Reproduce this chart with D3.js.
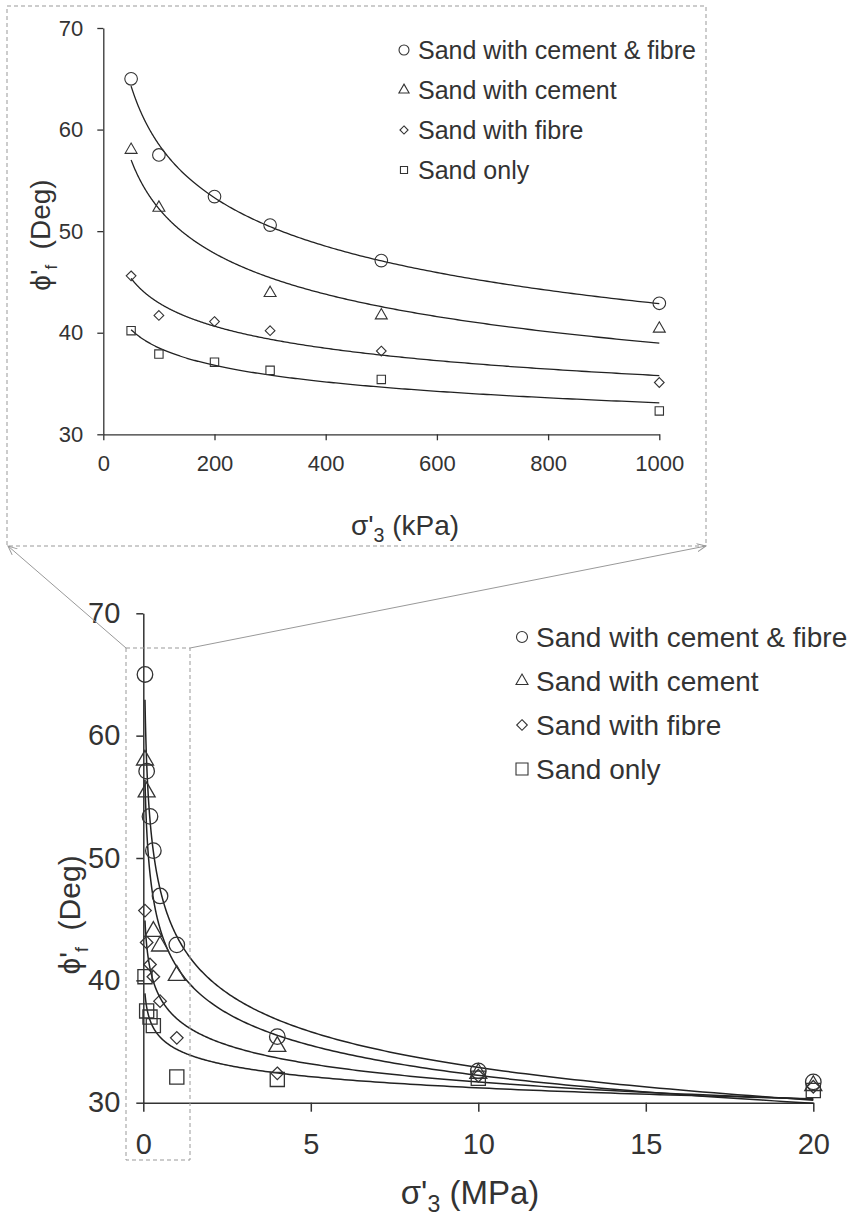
<!DOCTYPE html>
<html>
<head>
<meta charset="utf-8">
<script src="https://cdn.jsdelivr.net/npm/d3@7"></script>
<style>
  body { margin: 0; background: #fff; }
  svg { display: block; }
  text { font-family: "Liberation Sans", Arial, sans-serif; fill: #333; }
</style>
</head>
<body>
<svg id="chart" width="851" height="1220"></svg>
<script>
// ---- Series names (legend order) ----
const seriesNames = ["Sand with cement & fibre", "Sand with cement", "Sand with fibre", "Sand only"];

// ---- Tick values ----
const degTicks = [30, 40, 50, 60, 70];
const kpaTicks = [0, 200, 400, 600, 800, 1000];
const mpaTicks = [0, 5, 10, 15, 20];

// ---- Inset: low confining pressure, σ'3 in kPa ----
const kpaCementFibreX = [50, 100, 200, 300, 500, 1000];
const kpaCementFibre  = [65.0, 57.5, 53.4, 50.6, 47.1, 42.9];
const kpaCementX      = [50, 100, 300, 500, 1000];
const kpaCement       = [58.0, 52.3, 43.9, 41.7, 40.4];
const kpaFibreX       = [50, 100, 200, 300, 500, 1000];
const kpaFibre        = [45.6, 41.7, 41.1, 40.2, 38.2, 35.1];
const kpaSandX        = [50, 100, 200, 300, 500, 1000];
const kpaSand         = [40.2, 37.9, 37.1, 36.3, 35.4, 32.3];

// ---- Main: full pressure range, σ'3 in MPa ----
const mpaCementFibreX = [0.05, 0.1, 0.2, 0.3, 0.5, 1, 4, 10, 20];
const mpaCementFibre  = [65.0, 57.1, 53.4, 50.6, 46.9, 42.9, 35.4, 32.6, 31.7];
const mpaCementX      = [0.05, 0.1, 0.3, 0.5, 1, 4, 10, 20];
const mpaCement       = [58.0, 55.4, 44.0, 42.8, 40.4, 34.6, 32.4, 31.4];
const mpaFibreX       = [0.05, 0.1, 0.2, 0.3, 0.5, 1, 4, 10, 20];
const mpaFibre        = [45.7, 43.1, 41.3, 40.3, 38.3, 35.3, 32.4, 32.2, 31.3];
const mpaSandX        = [0.05, 0.1, 0.2, 0.3, 1, 4, 10, 20];
const mpaSand         = [40.3, 37.5, 37.0, 36.3, 32.1, 31.9, 32.0, 31.0];

const symbolTypes = [d3.symbolCircle, d3.symbolTriangle, d3.symbolDiamond2, d3.symbolSquare];

const svg = d3.select("#chart");
const INK = "#333";

// Power-law trendline y = a·x^b, least squares on ln–ln values
function powerFit(xs, ys) {
  const lx = xs.map(Math.log), ly = ys.map(Math.log);
  const mx = d3.mean(lx), my = d3.mean(ly);
  let sxy = 0, sxx = 0;
  lx.forEach((v, i) => { sxy += (v - mx) * (ly[i] - my); sxx += (v - mx) * (v - mx); });
  const b = sxy / sxx, a = Math.exp(my - b * mx);
  return x => a * Math.pow(x, b);
}

function drawPanel(cfg) {
  const g = svg.append("g");
  const x = d3.scaleLinear().domain(cfg.xDomain).range(cfg.xRange);
  const y = d3.scaleLinear().domain([30, 70]).range(cfg.yRange);

  // Axes
  const ax = g.append("g").attr("transform", `translate(0,${cfg.yRange[0]})`)
    .call(d3.axisBottom(x).tickValues(cfg.xTicks).tickFormat(d3.format("d"))
      .tickSize(cfg.tickDown).tickSizeOuter(0).tickPadding(cfg.xPad));
  const ay = g.append("g").attr("transform", `translate(${cfg.xRange[0]},0)`)
    .call(d3.axisLeft(y).tickValues(degTicks).tickSize(cfg.tickLeft).tickSizeOuter(0).tickPadding(cfg.yPad));
  [ax, ay].forEach(a => {
    a.select(".domain").attr("stroke", INK).attr("stroke-width", cfg.axisW);
    a.selectAll(".tick line").attr("stroke", INK).attr("stroke-width", cfg.axisW);
    a.selectAll(".tick text").attr("fill", INK).style("font-size", cfg.tickFont + "px")
      .style("font-family", '"Liberation Sans", Arial, sans-serif');
  });

  // Trendlines
  const line = d3.line().x(d => x(d[0])).y(d => y(d[1]));
  cfg.series.forEach(s => {
    const f = powerFit(s.x, s.y);
    const x0 = d3.min(s.x), x1 = d3.max(s.x), n = 300;
    const pts = d3.range(n).map(i => { const xv = x0 * Math.pow(x1 / x0, i / (n - 1)); return [xv, f(xv)]; });
    g.append("path").attr("d", line(pts)).attr("fill", "none")
      .attr("stroke", "#222").attr("stroke-width", cfg.curveW);
  });

  // Markers
  cfg.series.forEach((s, si) => {
    const sym = d3.symbol().type(symbolTypes[si]).size(cfg.markerSizes[si]);
    g.selectAll(null).data(s.x.map((v, i) => [v, s.y[i]])).join("path")
      .attr("d", sym)
      .attr("transform", d => `translate(${x(d[0])},${y(d[1])})`)
      .attr("fill", "none").attr("stroke", INK).attr("stroke-width", cfg.markerW);
  });

  // Legend
  const lg = g.append("g");
  seriesNames.forEach((name, i) => {
    const cy = cfg.legend.y0 + i * cfg.legend.dy;
    lg.append("path")
      .attr("d", d3.symbol().type(symbolTypes[i]).size(cfg.legend.sizes[i]))
      .attr("transform", `translate(${cfg.legend.mx},${cy})`)
      .attr("fill", "none").attr("stroke", INK).attr("stroke-width", 1.1);
    lg.append("text").attr("x", cfg.legend.tx).attr("y", cy).attr("dy", "0.36em")
      .style("font-size", cfg.legend.font + "px").text(name);
  });

  // Axis titles
  const xt = g.append("text").attr("x", cfg.xTitle.x).attr("y", cfg.xTitle.y)
    .attr("text-anchor", "middle").style("font-size", cfg.xTitle.font + "px");
  xt.append("tspan").text("σ'");
  xt.append("tspan").attr("dy", cfg.xTitle.font * 0.25).style("font-size", (cfg.xTitle.font * 0.7) + "px").text("3");
  xt.append("tspan").attr("dy", -cfg.xTitle.font * 0.25).text(" (" + cfg.unit + ")");

  const yt = g.append("text")
    .attr("transform", `translate(${cfg.yTitle.x},${cfg.yTitle.y}) rotate(-90)`)
    .attr("text-anchor", "middle").style("font-size", cfg.yTitle.font + "px");
  yt.append("tspan").text("ϕ'");
  yt.append("tspan").attr("dy", cfg.yTitle.font * 0.25).style("font-size", (cfg.yTitle.font * 0.6) + "px").text("f");
  yt.append("tspan").attr("dy", -cfg.yTitle.font * 0.25).text("\u00a0 (Deg)");
}

// Inset panel (kPa)
drawPanel({
  xDomain: [0, 1000], xRange: [103.3, 659.3], yRange: [434.3, 28],
  xTicks: kpaTicks, tickDown: 6, tickLeft: 6, xPad: 15, yPad: 14,
  axisW: 1.3, tickFont: 22, curveW: 1.3, markerW: 1.1,
  markerSizes: [125, 62, 60, 70],
  unit: "kPa",
  series: [
    { x: kpaCementFibreX, y: kpaCementFibre },
    { x: kpaCementX, y: kpaCement },
    { x: kpaFibreX, y: kpaFibre },
    { x: kpaSandX, y: kpaSand }
  ],
  legend: { mx: 404, tx: 418, y0: 50, dy: 40, font: 25, sizes: [78, 45, 42, 50] },
  xTitle: { x: 405, y: 535, font: 28 },
  yTitle: { x: 50, y: 235, font: 28 }
});

// Main panel (MPa)
drawPanel({
  xDomain: [0, 20], xRange: [143.3, 813.3], yRange: [1102.7, 613.3],
  xTicks: mpaTicks, tickDown: 9, tickLeft: 7, xPad: 22, yPad: 16,
  axisW: 1.5, tickFont: 29, curveW: 1.5, markerW: 1.3,
  markerSizes: [190, 125, 100, 200],
  unit: "MPa",
  series: [
    { x: mpaCementFibreX, y: mpaCementFibre },
    { x: mpaCementX, y: mpaCement },
    { x: mpaFibreX, y: mpaFibre },
    { x: mpaSandX, y: mpaSand }
  ],
  legend: { mx: 522, tx: 536, y0: 637, dy: 44, font: 28, sizes: [95, 62, 72, 144] },
  xTitle: { x: 470, y: 1204, font: 33 },
  yTitle: { x: 80, y: 915, font: 30 }
});

// Magnification guides: dashed window in the main panel, dashed frame round the inset
const guide = svg.append("g").attr("fill", "none").attr("stroke", "#999").attr("stroke-width", 1);
svg.append("defs").append("marker")
  .attr("id", "arrowOpen").attr("viewBox", "0 0 10 10").attr("refX", 9).attr("refY", 5)
  .attr("markerWidth", 10).attr("markerHeight", 10).attr("orient", "auto-start-reverse")
  .attr("markerUnits", "userSpaceOnUse")
  .append("path").attr("d", "M0,1 L9,5 L0,9").attr("fill", "none").attr("stroke", "#999").attr("stroke-width", 1);

guide.append("rect").attr("x", 126).attr("y", 648).attr("width", 64).attr("height", 512)
  .attr("stroke-dasharray", "4,3");
guide.append("rect").attr("x", 7).attr("y", 6).attr("width", 699).attr("height", 540)
  .attr("stroke-dasharray", "4,3");
guide.append("line").attr("x1", 126).attr("y1", 648).attr("x2", 8).attr("y2", 546)
  .attr("marker-end", "url(#arrowOpen)");
guide.append("line").attr("x1", 190).attr("y1", 648).attr("x2", 706).attr("y2", 546)
  .attr("marker-end", "url(#arrowOpen)");
</script>
</body>
</html>
